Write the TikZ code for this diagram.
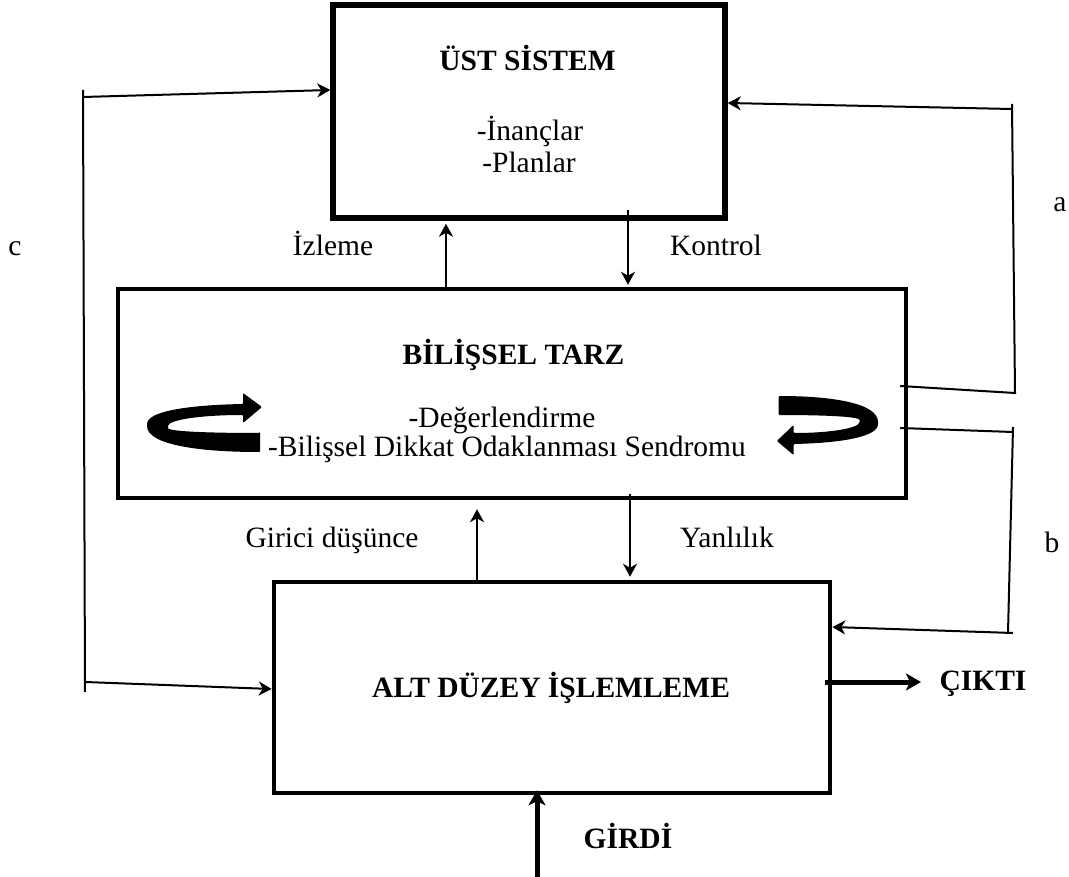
\documentclass[tikz,border=0pt]{standalone}
\usepackage{fontspec}
\setmainfont{Liberation Serif}
\usetikzlibrary{arrows.meta,calc}

\tikzset{
  lbl/.style={font=\fontsize{29.5}{35}\selectfont, inner sep=0pt, anchor=base},
  ttl/.style={font=\fontsize{29.5}{35}\selectfont\bfseries, inner sep=0pt, anchor=base},
  block/.style={draw, inner sep=0pt, line width=4.5pt},
  conn/.style={line width=2pt},
  arr/.style={line width=2pt, -{Stealth[length=13pt,width=14pt,inset=4pt]}},
  bigarr/.style={line width=5pt, -{Stealth[length=15pt,width=17pt,inset=4pt]}},
}

\begin{document}
\begin{tikzpicture}[x=1pt,y=-1pt]
\useasboundingbox (0,0) rectangle (1069,877);

% the three levels
\node[block, line width=5.5pt, minimum width=392pt, minimum height=213pt] (ust) at (529,111.5) {};
\node[block, minimum width=788pt, minimum height=209pt] (bil) at (512,393.5) {};
\node[block, minimum width=556pt, minimum height=211pt] (alt) at (552,687.5) {};

% texts inside the blocks
\node[ttl] (ustT) at (527.5,71) {ÜST SİSTEM};
\node[lbl] (ustA) at (530,141) {-İnançlar};
\node[lbl] (ustB) at (529,173) {-Planlar};
\node[ttl] (bilT) at (513.5,365) {BİLİŞSEL TARZ};
\node[lbl] (bilA) at (502,428) {-Değerlendirme};
\node[lbl] (bilB) at (507,456) {-Bilişsel Dikkat Odaklanması Sendromu};
\node[ttl] (altT) at (551,697) {ALT DÜZEY İŞLEMLEME};

% arrow labels
\node[lbl] (izL) at (333,256) {İzleme};
\node[lbl] (koL) at (716,256) {Kontrol};
\node[lbl] (giL) at (332,547) {Girici düşünce};
\node[lbl] (yaL) at (727,547) {Yanlılık};
\node[lbl] (aL) at (1060,212) {a};
\node[lbl] (bL) at (1052,552) {b};
\node[lbl] (cL) at (15,256) {c};
\node[ttl] (ciL) at (983,690) {ÇIKTI};
\node[ttl] (grL) at (628,848) {GİRDİ};

% vertical links between the levels
\coordinate (izX) at (446,0);
\coordinate (koX) at (628,0);
\coordinate (giX) at (477,0);
\coordinate (yaX) at (630,0);
\draw[arr] (bil.north -| izX) -- ($(ust.south -| izX)+(0,3)$);
\draw[arr] ($(ust.south -| koX)+(0,-11)$) -- ($(bil.north -| koX)+(0,-2)$);
\draw[arr] (alt.north -| giX) -- ($(bil.south -| giX)+(0,9)$);
\draw[arr] ($(bil.south -| yaX)+(0,-6)$) -- ($(alt.north -| yaX)+(0,-3)$);

% input and output
\coordinate (girdiIn) at (537,877);
\coordinate (ciktiTip) at (921,682);
\draw[bigarr] (girdiIn) -- ($(alt.south -| girdiIn)+(0,-5)$);
\draw[bigarr] ($(alt.east)+(-7,-5.5)$) -- (ciktiTip);

% loop a
\coordinate (aLo) at (1015,393);
\coordinate (aHi) at (1012,109);
\coordinate (aTick) at (1012,104);
\draw[conn] ($(bil.east)+(-8,-7.5)$) -- (aLo) -- (aTick);
\draw[arr] (aHi) -- ($(ust.east)+(0,-8.5)$);

% loop b
\coordinate (bHi) at (1013,432);
\coordinate (bTick) at (1013,427);
\coordinate (bLo) at (1008,633);
\coordinate (bEnd) at (1013,633);
\draw[conn] ($(bil.east)+(-8,34.5)$) -- (bHi);
\draw[conn] (bTick) -- (bLo);
\draw[arr] (bEnd) -- ($(alt.east)+(0,-60.5)$);

% loop c
\coordinate (cTop) at (83,90);
\coordinate (cBot) at (85,692);
\coordinate (cUp) at (83,97);
\coordinate (cDn) at (85,682);
\draw[conn] (cTop) -- (cBot);
\draw[arr] (cUp) -- ($(ust.west)+(0,-21.5)$);
\draw[arr] (cDn) -- ($(alt.west)+(0,1.5)$);

% circular arrows inside the middle block
\def\uturnpath{(55,10) -- (55,29) .. controls (-5,29) and (-58,22) .. (-58,2)
  .. controls (-58,-12) and (-15,-18) .. (38,-19) -- (38,-30) -- (57,-16)
  -- (38,0) -- (38,-8) .. controls (-5,-8) and (-37,-3) .. (-37,4)
  .. controls (-37,9) and (15,10) .. (55,10) -- cycle}
\begin{scope}[shift={(205,423)}]
  \fill[rounded corners=1pt] \uturnpath;
\end{scope}
\begin{scope}[shift={(827,425)}, rotate=180, xscale=0.88]
  \fill[rounded corners=1pt] \uturnpath;
\end{scope}
\end{tikzpicture}
\end{document}
